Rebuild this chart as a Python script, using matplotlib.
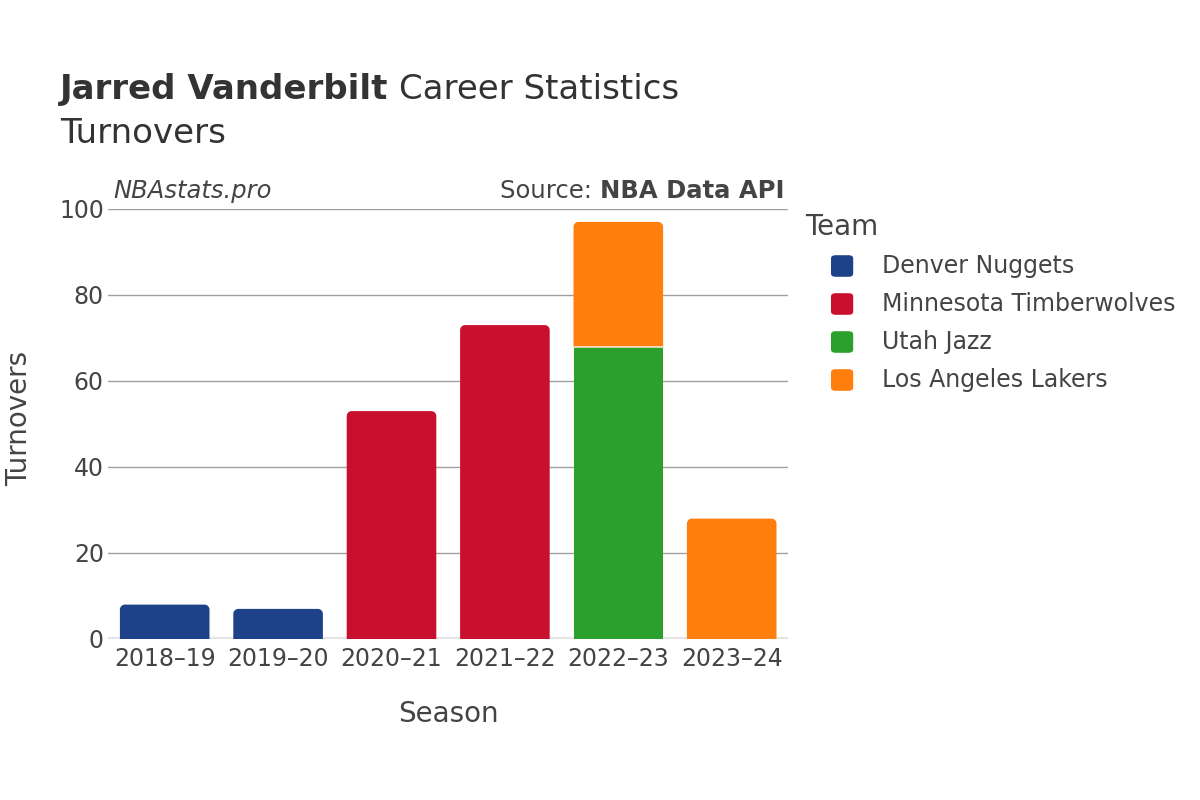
import numpy as np
import matplotlib.pyplot as plt
from matplotlib.patches import FancyBboxPatch, Rectangle, Polygon

seasons = ["2018–19", "2019–20", "2020–21", "2021–22", "2022–23", "2023–24"]
teams = ["Denver Nuggets", "Minnesota Timberwolves", "Utah Jazz", "Los Angeles Lakers"]
colors = ["#1D428A", "#C8102E", "#2CA02C", "#FF7F0E"]
# turnovers per team per season
denver = [8, 7, 0, 0, 0, 0]
minnesota = [0, 0, 53, 73, 0, 0]
utah = [0, 0, 0, 0, 68, 0]
lakers = [0, 0, 0, 0, 29, 28]
series = [denver, minnesota, utah, lakers]

TEXT = "#444444"

fig = plt.figure(figsize=(12, 8), dpi=100)
ax = fig.add_axes([0.09, 0.20125, 0.567, 0.5375])
ax.set_xlim(-0.5, len(seasons) - 0.5)
ax.set_ylim(0, 100)


def top_rounded(x0, y0, w, h, rx, ry, **kw):
    # polygon with rounded top corners only
    ry = min(ry, h / 2)
    t = np.linspace(0, np.pi / 2, 12)
    left = [(x0 + rx - rx * np.cos(a), y0 + h - ry + ry * np.sin(a)) for a in t]
    right = [(x0 + w - rx + rx * np.sin(a), y0 + h - ry + ry * np.cos(a)) for a in t]
    pts = [(x0, y0)] + left + right + [(x0 + w, y0)]
    return Polygon(pts, closed=True, **kw)


# pixel -> data scale for corner radius
px_x = (ax.get_position().width * 1200) / len(seasons)
px_y = (ax.get_position().height * 800) / 100
RAD = 5

x = np.arange(len(seasons))
width = 0.79
bottoms = np.zeros(len(seasons))
totals = np.sum(series, axis=0)

for vals, col in zip(series, colors):
    vals = np.array(vals, dtype=float)
    for i, v in enumerate(vals):
        if v <= 0:
            continue
        b = bottoms[i]
        if np.isclose(b + v, totals[i]):
            ax.add_patch(top_rounded(x[i] - width / 2, b, width, v,
                                     RAD / px_x, RAD / px_y,
                                     fc=col, ec="none", zorder=3))
        else:
            ax.add_patch(Rectangle((x[i] - width / 2, b), width, v,
                                   fc=col, ec="none", zorder=3))
    bottoms += vals

# thin separator between stacked segments
for i in range(len(seasons)):
    if utah[i] and lakers[i]:
        ax.plot([x[i] - width / 2, x[i] + width / 2], [utah[i], utah[i]],
                color="#f3e3c0", lw=1.2, zorder=4)

ax.set_xticks(x)
ax.set_xticklabels(seasons)
ax.set_yticks([0, 20, 40, 60, 80, 100])
ax.tick_params(axis="both", length=0, labelsize=17, colors=TEXT, pad=6)
ax.tick_params(axis="y", pad=3)
for s in ax.spines.values():
    s.set_visible(False)
for yv in [20, 40, 60, 80, 100]:
    ax.axhline(yv, color="#a0a0a0", lw=1, zorder=1)
ax.axhline(0, color="#e5e5e5", lw=3, zorder=2)

ax.set_xlabel("Season", fontsize=20, color=TEXT, labelpad=21)
fig.text(0.016, 0.4775, "Turnovers", rotation=90, fontsize=20, color=TEXT,
         ha="center", va="center")

t1 = fig.text(0.05, 0.888, "Jarred Vanderbilt", fontsize=24.5, fontweight="bold",
              color="#333333", va="center")
fig.canvas.draw()
r = fig.canvas.get_renderer()
x_end = t1.get_window_extent(r).x1 / 1200
fig.text(x_end + 0.009, 0.888, "Career Statistics", fontsize=24.5, color="#333333",
         va="center")
fig.text(0.05, 0.833, "Turnovers", fontsize=24.5, color="#333333", va="center")

ax.text(0.0075, 1.013, "NBAstats.pro", transform=ax.transAxes, fontsize=17.5,
        style="italic", color=TEXT, ha="left", va="bottom")
src = ax.text(0.994, 1.013, "NBA Data API", transform=ax.transAxes, fontsize=17.5,
              fontweight="bold", color=TEXT, ha="right", va="bottom")
fig.canvas.draw()
bb = src.get_window_extent(r)
fig.text(bb.x0 / 1200, bb.y0 / 800, "Source: ", fontsize=17.5, color=TEXT,
         ha="right", va="bottom")

# legend
fig.text(0.671, 0.716, "Team", fontsize=20, color=TEXT, va="center")
for k, (name, col) in enumerate(zip(teams, colors)):
    yc = 1 - (266 + 38 * k) / 800
    fig.patches.append(FancyBboxPatch((0.6925, yc - 0.0135), 0.0185, 0.027,
                                      boxstyle="round,pad=0,rounding_size=0.004",
                                      transform=fig.transFigure, fc=col, ec="none"))
    fig.text(0.735, yc, name, fontsize=17, color=TEXT, va="center")

fig.savefig("out.png", dpi=100, facecolor="white")
